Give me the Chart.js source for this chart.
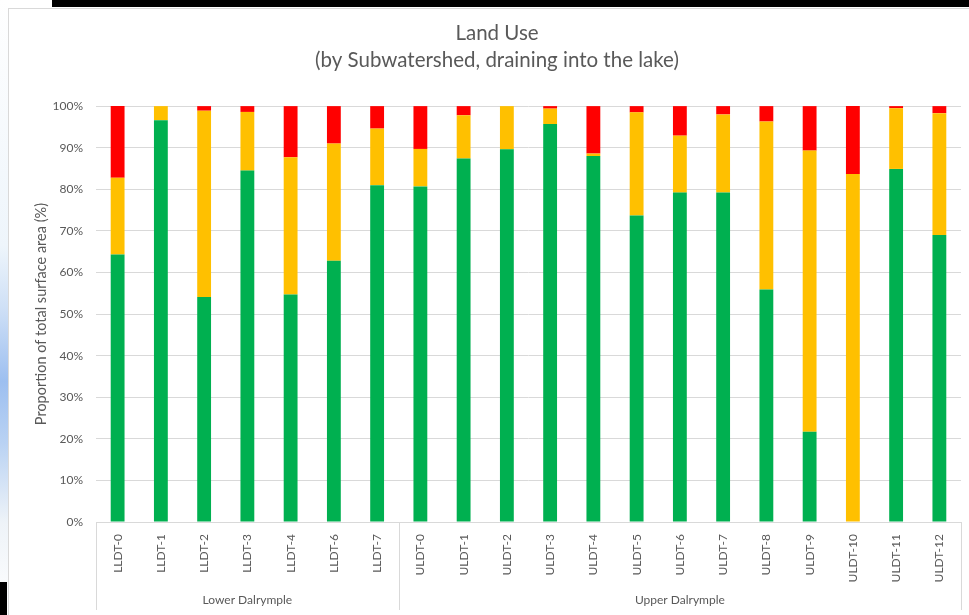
<!DOCTYPE html>
<html>
<head>
<meta charset="utf-8">
<title>Land Use</title>
<script src="https://cdn.jsdelivr.net/npm/chart.js@4/dist/chart.umd.min.js"></script>
<style>
  html, body { margin: 0; padding: 0; }
  body { width: 969px; height: 615px; position: relative; overflow: hidden; background: #fff; }
  .strip { position: absolute; left: 0; top: 0; width: 8px; height: 615px;
    background: linear-gradient(180deg, #ffffff 0%, #eef5fb 40%, #cfe0f6 50%, #9dbff0 62%, #b9d2f3 72%, #eef3f8 85%, #ffffff 100%); }
  .topbar { position: absolute; left: 52px; top: 0; width: 917px; height: 7px; background: #000; }
  .corner { position: absolute; left: 0; top: 582px; width: 7px; height: 33px; background: #000; }
  .card { position: absolute; left: 8px; top: 8px; width: 970px; height: 620px; background: #fff; border: 1px solid #d9d9d9; box-sizing: border-box; }
  #wrap { position: absolute; left: 0; top: 0; width: 969px; height: 615px; }
</style>
</head>
<body>
<div class="strip"></div>
<div class="topbar"></div>
<div class="corner"></div>
<div class="card"></div>
<div id="wrap"><canvas id="landUse"></canvas></div>
<script>
// --- data ---
const subwatersheds = ['LLDT-0', 'LLDT-1', 'LLDT-2', 'LLDT-3', 'LLDT-4', 'LLDT-6', 'LLDT-7',
  'ULDT-0', 'ULDT-1', 'ULDT-2', 'ULDT-3', 'ULDT-4', 'ULDT-5', 'ULDT-6', 'ULDT-7', 'ULDT-8',
  'ULDT-9', 'ULDT-10', 'ULDT-11', 'ULDT-12'];
const groupNames = ['Lower Dalrymple', 'Upper Dalrymple'];
const groupSizes = [7, 13];

// share of each subwatershed's surface area (%)
const natural = [64.3, 96.6, 54.1, 84.5, 54.7, 62.8, 81.0,
  80.7, 87.4, 89.6, 95.7, 88.0, 73.7, 79.2, 79.2, 55.9, 21.7, 0.0, 84.9, 69.0];
const agricultural = [18.5, 3.4, 44.8, 14.1, 33.0, 28.2, 13.6,
  9.0, 10.4, 10.4, 3.7, 0.6, 24.8, 13.7, 18.8, 40.4, 67.6, 83.7, 14.6, 29.3];
const developed = [17.2, 0.0, 1.1, 1.4, 12.3, 9.0, 5.4,
  10.3, 2.2, 0.0, 0.6, 11.4, 1.5, 7.1, 2.0, 3.7, 10.7, 16.3, 0.5, 1.7];

const yTicks = [0, 10, 20, 30, 40, 50, 60, 70, 80, 90, 100];

const FONT = 'Lato, Calibri, "Liberation Sans", sans-serif';
const GREY = '#595959';
const LINE = '#d9d9d9';

// draws the second category level (group names and separators) under the ticks
const groupAxis = {
  id: 'groupAxis',
  afterDraw(chart) {
    const x = chart.scales.x;
    const area = chart.chartArea;
    const ctx = chart.ctx;
    const bottom = 610;
    const edges = [area.left];
    let idx = 0;
    groupSizes.forEach((n, i) => {
      idx += n;
      if (idx < subwatersheds.length) {
        edges.push((x.getPixelForValue(idx - 1) + x.getPixelForValue(idx)) / 2);
      } else {
        edges.push(area.right);
      }
    });
    ctx.save();
    ctx.strokeStyle = LINE;
    ctx.lineWidth = 1;
    edges.forEach(e => {
      const px = Math.round(e) + 0.5;
      ctx.beginPath();
      ctx.moveTo(px, area.bottom);
      ctx.lineTo(px, bottom);
      ctx.stroke();
    });
    ctx.fillStyle = GREY;
    ctx.font = '12px ' + FONT;
    ctx.textAlign = 'center';
    ctx.textBaseline = 'middle';
    groupNames.forEach((name, i) => {
      ctx.fillText(name, (edges[i] + edges[i + 1]) / 2, 600);
    });
    ctx.restore();
  }
};

const ctx = document.getElementById('landUse').getContext('2d');
new Chart(ctx, {
  type: 'bar',
  data: {
    labels: subwatersheds,
    datasets: [
      { label: 'Natural', data: natural, backgroundColor: '#00b050' },
      { label: 'Agricultural', data: agricultural, backgroundColor: '#ffc000' },
      { label: 'Developed', data: developed, backgroundColor: '#ff0000' }
    ]
  },
  options: {
    responsive: true,
    maintainAspectRatio: false,
    animation: false,
    datasets: { bar: { barPercentage: 0.64, categoryPercentage: 0.5 } },
    layout: { padding: { left: 33, right: 8, top: 8, bottom: 0 } },
    plugins: {
      legend: { display: false },
      tooltip: { enabled: false },
      title: {
        display: true,
        text: ['Land Use', '(by Subwatershed, draining into the lake)'],
        color: GREY,
        font: { family: FONT, size: 20.5, weight: 'normal', lineHeight: 1.32 },
        padding: { top: 11.5, bottom: 32.5 }
      }
    },
    scales: {
      x: {
        stacked: true,
        grid: { display: false },
        border: { display: true, color: LINE },
        ticks: {
          color: GREY,
          font: { family: FONT, size: 12 },
          minRotation: 90,
          maxRotation: 90,
          autoSkip: false,
          padding: 4
        },
        afterFit(scale) { scale.height = 93; }
      },
      y: {
        stacked: true,
        min: 0,
        max: 100,
        afterBuildTicks(scale) { scale.ticks = yTicks.map(v => ({ value: v })); },
        grid: { color: LINE, lineWidth: 1, drawTicks: false },
        border: { display: false },
        ticks: {
          color: GREY,
          font: { family: FONT, size: 12 },
          padding: 13,
          callback: v => v + '%'
        },
        title: {
          display: true,
          text: 'Proportion of total surface area (%)',
          color: GREY,
          font: { family: FONT, size: 14.5 },
          padding: { top: 0, bottom: 0 }
        },
        afterFit(scale) { scale.width = 63; }
      }
    }
  },
  plugins: [groupAxis]
});
</script>
</body>
</html>
